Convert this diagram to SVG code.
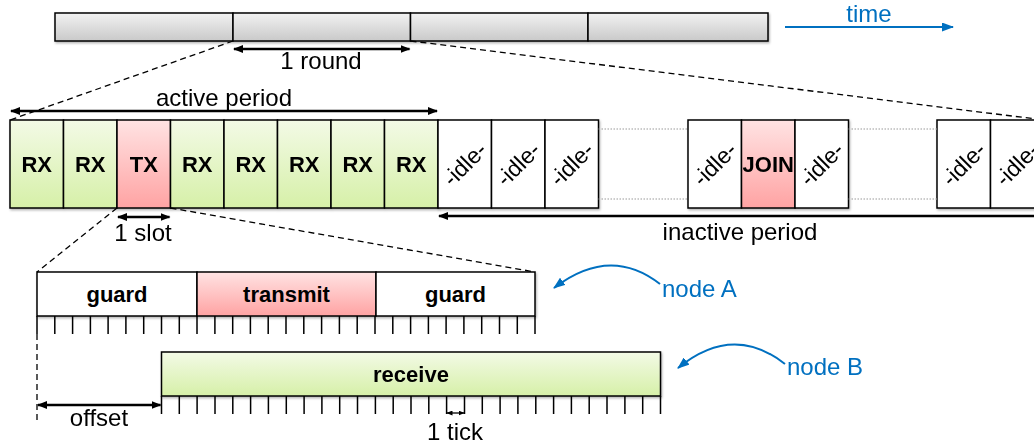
<svg xmlns="http://www.w3.org/2000/svg" width="1034" height="444" viewBox="0 0 1034 444">
  <defs>
    <linearGradient id="gGray" x1="0" y1="0" x2="0" y2="1">
      <stop offset="0" stop-color="#f2f2f2"/>
      <stop offset="1" stop-color="#c9c9c9"/>
    </linearGradient>
    <linearGradient id="gGreen" x1="0" y1="0" x2="0" y2="1">
      <stop offset="0" stop-color="#f3fae6"/>
      <stop offset="1" stop-color="#d6f0a8"/>
    </linearGradient>
    <linearGradient id="gRed" x1="0" y1="0" x2="0" y2="1">
      <stop offset="0" stop-color="#ffe3e3"/>
      <stop offset="1" stop-color="#ffa3a3"/>
    </linearGradient>
    <filter id="shadow" x="-5%" y="-20%" width="110%" height="150%">
      <feDropShadow dx="1" dy="1.5" stdDeviation="1" flood-color="#000" flood-opacity="0.3"/>
    </filter>
    <marker id="ah" markerWidth="10" markerHeight="8" refX="9" refY="4" orient="auto-start-reverse" markerUnits="userSpaceOnUse">
      <path d="M0,0 L10,4 L0,8 Z" fill="#000"/>
    </marker>
    <marker id="ahSmall" markerWidth="6" markerHeight="5" refX="5.5" refY="2.5" orient="auto-start-reverse" markerUnits="userSpaceOnUse">
      <path d="M0,0 L6,2.5 L0,5 Z" fill="#000"/>
    </marker>
    <marker id="ahBlue" markerWidth="12" markerHeight="9" refX="11" refY="4.5" orient="auto-start-reverse" markerUnits="userSpaceOnUse">
      <path d="M0,0 L12,4.5 L0,9 Z" fill="#0070c0"/>
    </marker>
    <style>
      text { font-family: "Liberation Sans", Arial, sans-serif; fill: #000; }
      .lbl { font-size: 24px; text-anchor: middle; }
      .blue { fill: #0070c0; }
      .start { text-anchor: start; }
      .bold { font-size: 22px; font-weight: bold; text-anchor: middle; }
      .idle { font-size: 23px; text-anchor: middle; }
      .box { stroke: #000; stroke-width: 1.5; }
      .seg { fill: url(#gGray); }
      .rx { fill: url(#gGreen); }
      .tx { fill: url(#gRed); }
      .wh { fill: #fff; }
      .dash { fill: none; stroke: #000; stroke-width: 1.3; stroke-dasharray: 6 4; }
      .dot { fill: none; stroke: #999; stroke-width: 1; stroke-dasharray: 1.5 1.5; }
      .arr { fill: none; stroke: #000; stroke-width: 2.5; }
      .tick { stroke: #000; stroke-width: 1.5; }
      .barr { fill: none; stroke: #0070c0; stroke-width: 2; }
    </style>
  </defs>

  <rect width="1034" height="444" fill="#fff"/>

  <!-- rounds timeline -->
  <g id="rounds" filter="url(#shadow)">
    <rect class="box seg" x="55" y="13" width="178" height="28"/>
    <rect class="box seg" x="233" y="13" width="177.5" height="28"/>
    <rect class="box seg" x="410.5" y="13" width="177.5" height="28"/>
    <rect class="box seg" x="588" y="13" width="180" height="28"/>
  </g>

  <!-- slots of one round -->
  <g id="active-slots" filter="url(#shadow)">
    <g id="slot1"><rect class="box rx" x="10" y="120" width="53.5" height="88"/><text class="bold" x="36.75" y="172">RX</text></g>
    <g id="slot2"><rect class="box rx" x="63.5" y="120" width="53.5" height="88"/><text class="bold" x="90.25" y="172">RX</text></g>
    <g id="slot3"><rect class="box tx" x="117" y="120" width="53.5" height="88"/><text class="bold" x="143.75" y="172">TX</text></g>
    <g id="slot4"><rect class="box rx" x="170.5" y="120" width="53.5" height="88"/><text class="bold" x="197.25" y="172">RX</text></g>
    <g id="slot5"><rect class="box rx" x="224" y="120" width="53.5" height="88"/><text class="bold" x="250.75" y="172">RX</text></g>
    <g id="slot6"><rect class="box rx" x="277.5" y="120" width="53.5" height="88"/><text class="bold" x="304.25" y="172">RX</text></g>
    <g id="slot7"><rect class="box rx" x="331" y="120" width="53.5" height="88"/><text class="bold" x="357.75" y="172">RX</text></g>
    <g id="slot8"><rect class="box rx" x="384.5" y="120" width="53.5" height="88"/><text class="bold" x="411.25" y="172">RX</text></g>
  </g>

  <!-- idle labels are rotated about the slot centre -->
  <g id="inactive-slots" filter="url(#shadow)">
    <g id="idle1"><rect class="box wh" x="438" y="120" width="53.5" height="88"/><text class="idle" x="0" y="8" transform="translate(464.75,164) rotate(-45)">-idle-</text></g>
    <g id="idle2"><rect class="box wh" x="491.5" y="120" width="53.5" height="88"/><text class="idle" x="0" y="8" transform="translate(518.25,164) rotate(-45)">-idle-</text></g>
    <g id="idle3"><rect class="box wh" x="545" y="120" width="53.5" height="88"/><text class="idle" x="0" y="8" transform="translate(571.75,164) rotate(-45)">-idle-</text></g>
    <g id="idle4"><rect class="box wh" x="688" y="120" width="53.5" height="88"/><text class="idle" x="0" y="8" transform="translate(714.75,164) rotate(-45)">-idle-</text></g>
    <g id="join"><rect class="box tx" x="741.5" y="120" width="53.5" height="88"/><text class="bold" x="768.25" y="172">JOIN</text></g>
    <g id="idle5"><rect class="box wh" x="795" y="120" width="53.5" height="88"/><text class="idle" x="0" y="8" transform="translate(821.75,164) rotate(-45)">-idle-</text></g>
    <g id="idle6"><rect class="box wh" x="937" y="120" width="53.5" height="88"/><text class="idle" x="0" y="8" transform="translate(963.75,164) rotate(-45)">-idle-</text></g>
    <g id="idle7"><rect class="box wh" x="990.5" y="120" width="53.5" height="88"/><text class="idle" x="0" y="8" transform="translate(1017.25,164) rotate(-45)">-idle-</text></g>
  </g>

  <!-- node A: one slot -->
  <g id="nodeA">
    <g filter="url(#shadow)">
      <rect class="box wh" x="37" y="272" width="160" height="44"/>
      <rect class="box tx" x="197" y="272" width="179" height="44"/>
      <rect class="box wh" x="376" y="272" width="159" height="44"/>
    </g>
    <text class="bold" x="117" y="302">guard</text>
    <text class="bold" x="286.5" y="302">transmit</text>
    <text class="bold" x="455.5" y="302">guard</text>
    <path class="tick" d="M37,316v18 M54.8,316v18 M72.6,316v18 M90.4,316v18 M108.1,316v18 M125.9,316v18 M143.7,316v18 M161.5,316v18 M179.3,316v18 M197,316v18 M214.9,316v18 M232.7,316v18 M250.4,316v18 M268.2,316v18 M286,316v18 M303.8,316v18 M321.6,316v18 M339.4,316v18 M357.2,316v18 M375,316v18 M392.8,316v18 M410.6,316v18 M428.4,316v18 M446.1,316v18 M463.9,316v18 M481.7,316v18 M499.5,316v18 M517.3,316v18 M535,316v18"/>
  </g>

  <!-- node B: receive window -->
  <g id="nodeB">
    <rect class="box rx" x="161.5" y="352" width="499" height="44" filter="url(#shadow)"/>
    <text class="bold" x="411" y="382">receive</text>
    <path class="tick" d="M161.5,396v18 M179.3,396v18 M197.1,396v18 M215,396v18 M232.8,396v18 M250.6,396v18 M268.4,396v18 M286.3,396v18 M304.1,396v18 M321.9,396v18 M339.7,396v18 M357.5,396v18 M375.4,396v18 M393.2,396v18 M411,396v18 M428.8,396v18 M446.6,396v18 M464.5,396v18 M482.3,396v18 M500.1,396v18 M517.9,396v18 M535.8,396v18 M553.6,396v18 M571.4,396v18 M589.2,396v18 M607,396v18 M624.9,396v18 M642.7,396v18 M660.5,396v18"/>
  </g>

  <!-- connectors: zoom lines, dimension arrows, pointers -->
  <g id="connectors">
    <path class="dash" d="M233,41 L10,120 M410.5,41 L1044,120"/>
    <path class="dash" d="M117,208 L37,272 M170.5,208 L535,272"/>
    <path class="dash" d="M37,334 L37,420"/>
    <path class="dot" d="M598.5,129 H688 M598.5,199 H688 M848.5,129 H937 M848.5,199 H937"/>

    <path class="arr" d="M234,49 H409.5" marker-start="url(#ah)" marker-end="url(#ah)"/>
    <path class="arr" d="M11,111 H437" marker-start="url(#ah)" marker-end="url(#ah)"/>
    <path class="arr" d="M118,217 H169.5" marker-start="url(#ah)" marker-end="url(#ah)"/>
    <path class="arr" d="M439,216 H1034" marker-start="url(#ah)"/>
    <path class="arr" d="M38,405 H160.5" marker-start="url(#ah)" marker-end="url(#ah)"/>
    <path fill="none" stroke="#000" stroke-width="1.3" d="M447,413 H464" marker-start="url(#ahSmall)" marker-end="url(#ahSmall)"/>

    <path class="barr" d="M785,27 H953" marker-end="url(#ahBlue)"/>
    <path class="barr" d="M660,284 Q610,245 554,288" marker-end="url(#ahBlue)"/>
    <path class="barr" d="M785,364 Q733,323 678,368" marker-end="url(#ahBlue)"/>
  </g>

  <!-- annotations -->
  <g id="labels">
    <text class="lbl blue" x="869" y="22">time</text>
    <text class="lbl" x="321" y="69">1 round</text>
    <text class="lbl" x="224" y="106">active period</text>
    <text class="lbl" x="143" y="241">1 slot</text>
    <text class="lbl" x="740" y="240">inactive period</text>
    <text class="lbl blue start" x="662" y="297">node A</text>
    <text class="lbl blue start" x="787" y="375">node B</text>
    <text class="lbl" x="99" y="426">offset</text>
    <text class="lbl" x="455" y="440">1 tick</text>
  </g>
</svg>
